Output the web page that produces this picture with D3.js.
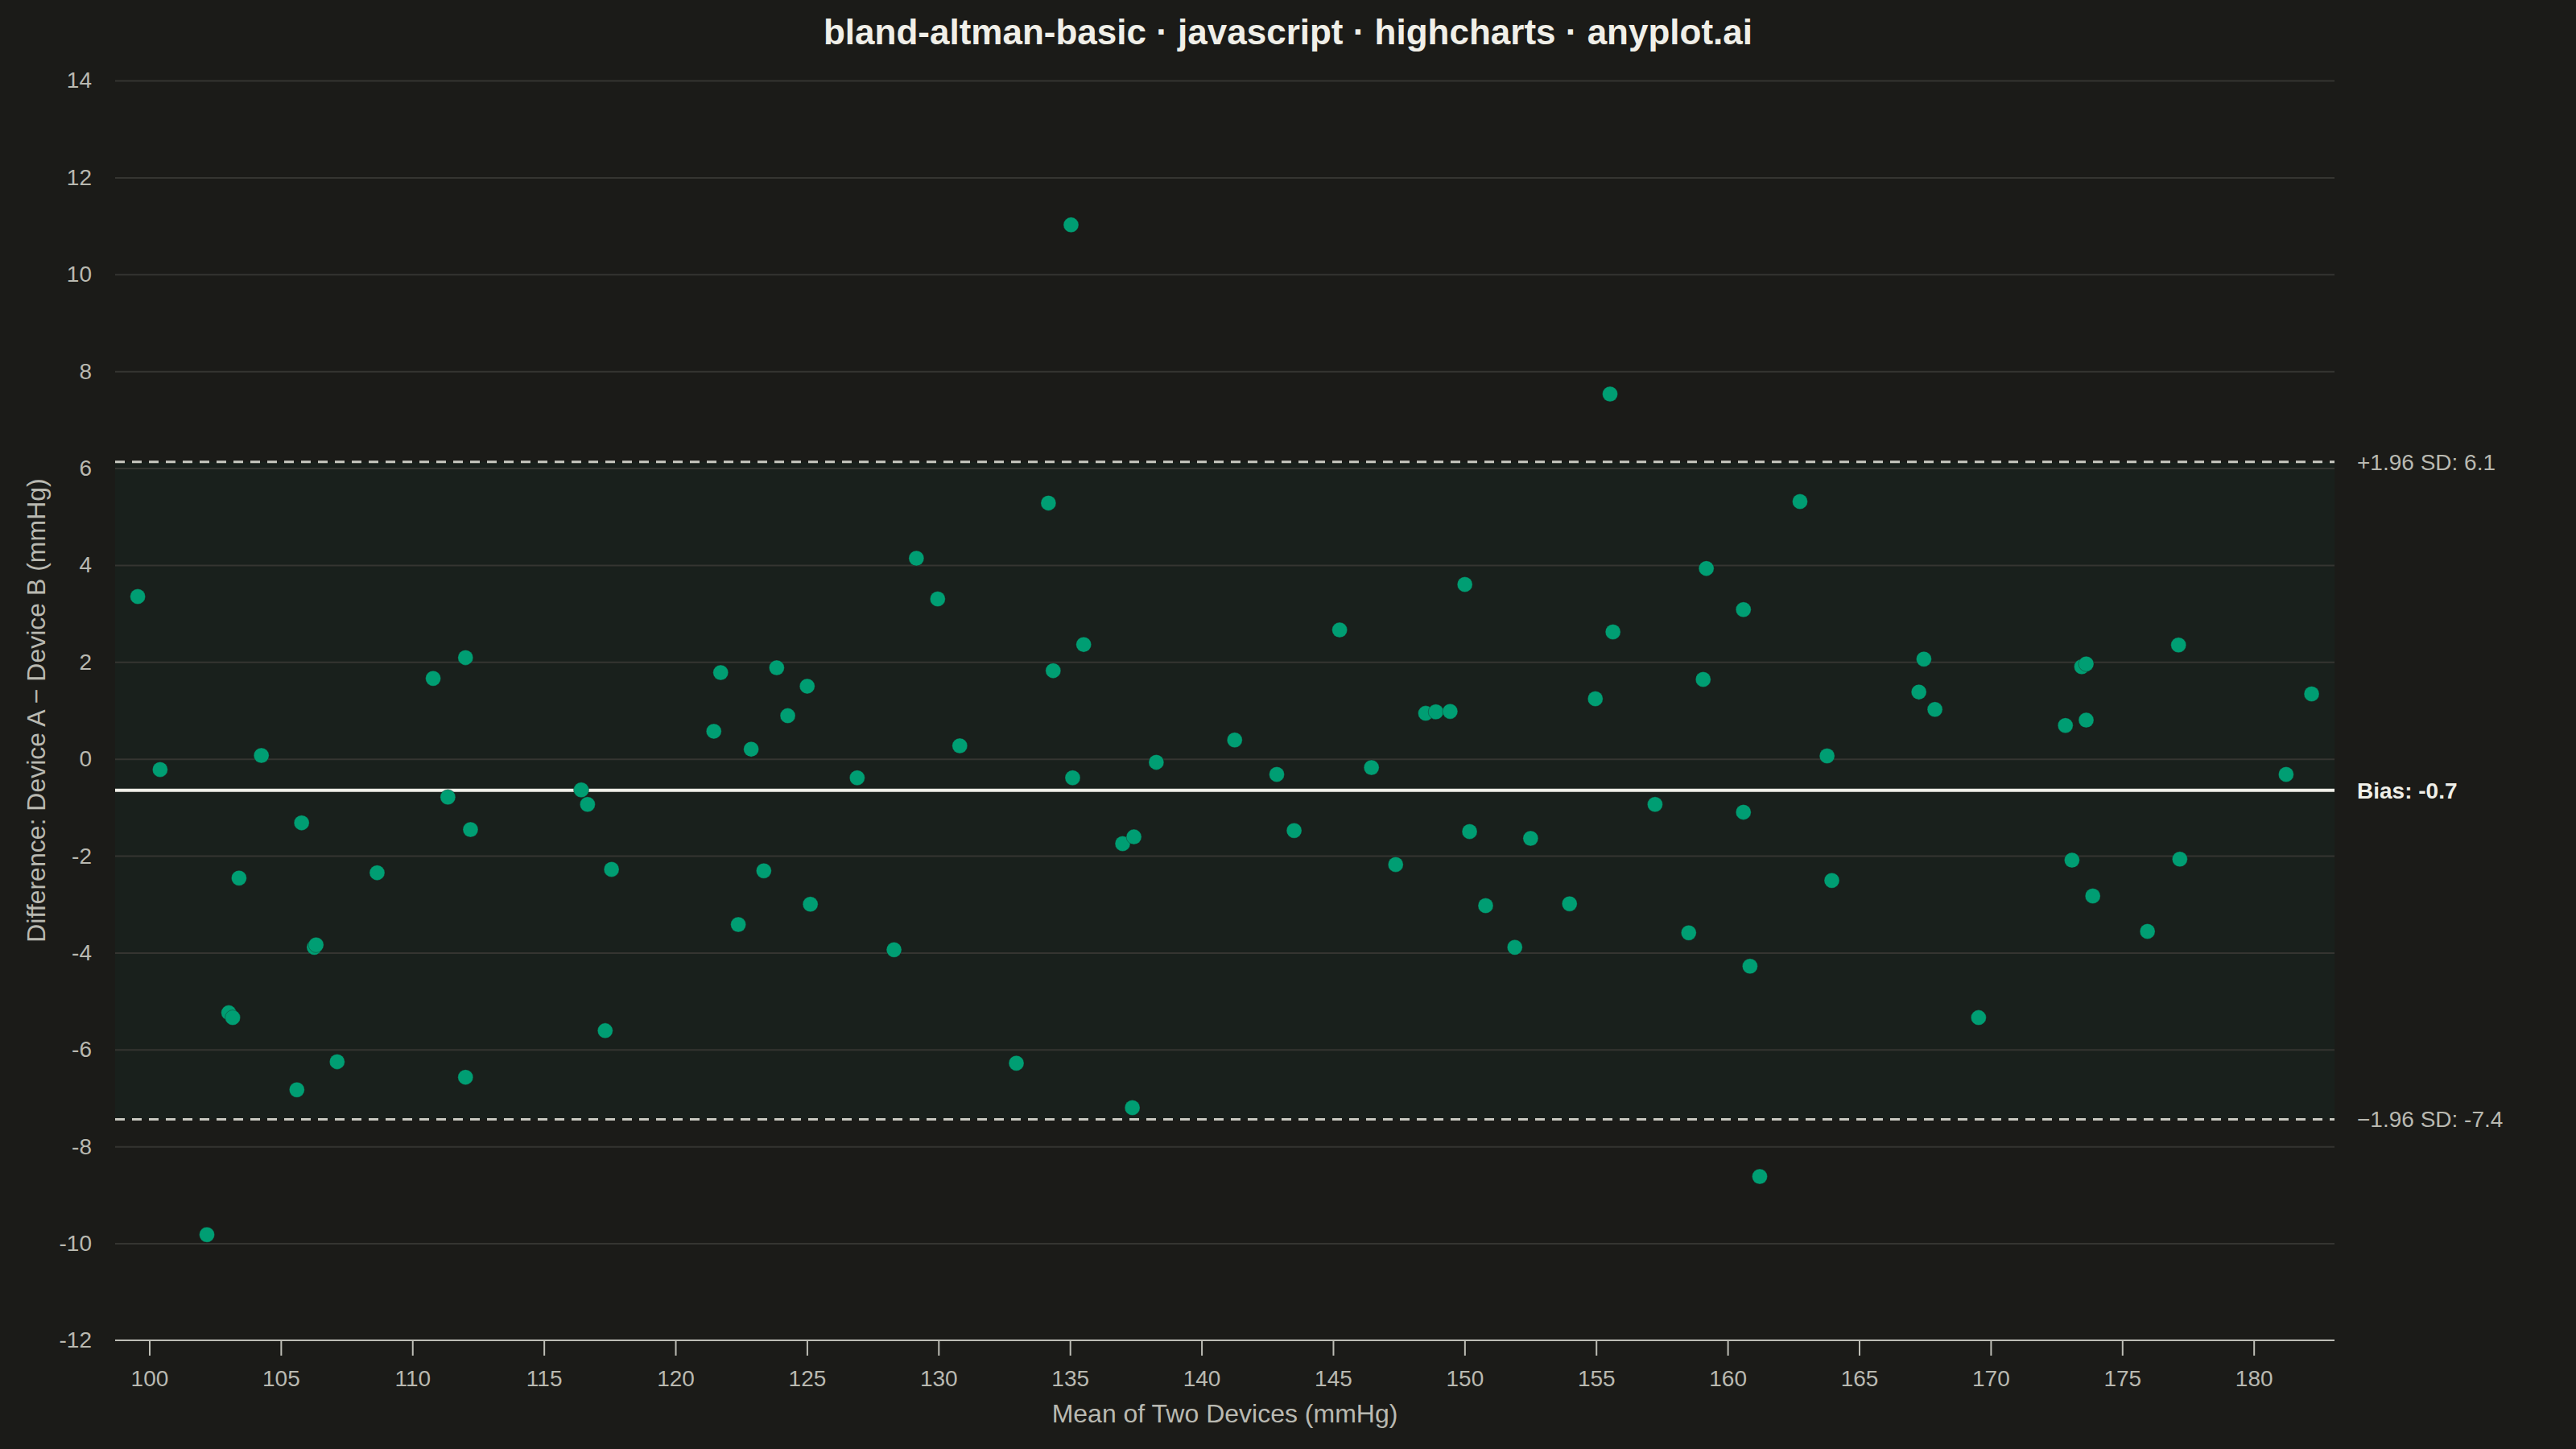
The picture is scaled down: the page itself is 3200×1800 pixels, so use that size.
<!DOCTYPE html>
<html>
<head>
<meta charset="utf-8">
<script src="https://cdn.jsdelivr.net/npm/d3@7"></script>
<style>
  html, body { margin: 0; padding: 0; background: #1b1b18; }
  svg { display: block; }
  text { font-family: "Liberation Sans", Arial, Helvetica, sans-serif; }
</style>
</head>
<body>
<svg id="chart" width="3200" height="1800"></svg>
<script>
// ---- data ----
const meanValues = [
  99.56, 100.41, 102.19, 103.02, 103.17, 103.41, 104.26, 105.61, 105.79, 106.27,
  106.34, 107.14, 108.66, 110.79, 111.35, 112.02, 112.21, 112.02, 116.42, 116.66,
  117.57, 117.33,
  121.46, 121.72, 122.39, 122.88, 123.36, 123.85, 124.27, 125.01, 125.13, 126.91,
  128.31, 129.16, 129.97, 130.81, 132.96, 134.18, 134.36, 135.04, 135.10, 135.52,
  137.00, 137.43, 137.37, 138.28,
  141.26, 142.86, 143.52, 145.25, 146.46, 147.38, 148.52, 148.91, 149.45, 150.01,
  150.19, 150.80, 151.91, 152.51, 153.99, 154.97, 155.53, 155.64, 157.24, 158.52,
  159.07, 159.19, 160.60, 160.60, 160.85, 161.22,
  162.75, 163.78, 163.96, 167.27, 167.46, 167.88, 169.54, 172.84, 173.09, 173.46,
  173.63, 173.63, 173.88, 175.96, 177.14, 177.19, 181.23, 182.20
];
const diffValues = [
  3.35, -0.22, -9.82, -5.24, -5.34, -2.46, 0.07, -6.83, -1.32, -3.89,
  -3.84, -6.25, -2.35, 1.66, -0.79, 2.09, -1.46, -6.57, -0.64, -0.94,
  -2.28, -5.61,
  0.57, 1.78, -3.42, 0.20, -2.31, 1.88, 0.89, 1.50, -3.00, -0.39,
  -3.94, 4.14, 3.30, 0.27, -6.28, 5.28, 1.82, 11.02, -0.39, 2.36,
  -1.75, -1.61, -7.20, -0.07,
  0.39, -0.32, -1.48, 2.66, -0.18, -2.18, 0.94, 0.97, 0.98, 3.60,
  -1.50, -3.03, -3.89, -1.64, -2.99, 1.24, 7.53, 2.62, -0.94, -3.59,
  1.64, 3.93, 3.08, -1.10, -4.28, -8.62,
  5.31, 0.06, -2.51, 1.38, 2.06, 1.02, -5.34, 0.69, -2.09, 1.90,
  1.96, 0.80, -2.83, -3.56, 2.35, -2.07, -0.32, 1.34
];
const referenceNames = ["upper", "bias", "lower"];
const referenceValues = [6.13, -0.65, -7.44];
const referenceLabels = ["+1.96 SD: 6.1", "Bias: -0.7", "\u22121.96 SD: -7.4"];
const xTicks = [100, 105, 110, 115, 120, 125, 130, 135, 140, 145, 150, 155, 160, 165, 170, 175, 180];
const yTicks = [-12, -10, -8, -6, -4, -2, 0, 2, 4, 6, 8, 10, 12, 14];
const xDomain = [98.7, 183.07];
const yDomain = [-12, 14];
const titleText = "bland-altman-basic \u00b7 javascript \u00b7 highcharts \u00b7 anyplot.ai";
const xTitle = "Mean of Two Devices (mmHg)";
const yTitle = "Difference: Device A \u2212 Device B (mmHg)";

// ---- layout ----
const W = 3200, H = 1800;
const plot = { left: 143, right: 2900, top: 100, bottom: 1665 };
const colors = {
  bg: "#1b1b18", band: "#19201c", grid: "#353531", axis: "#bdbdb5",
  text: "#b9b9b1", title: "#f0efe8", point: "#009E73", dashed: "#c9c9c1", bias: "#f0efe8"
};
const plainFormat = d => String(d);

const svg = d3.select("#chart");
svg.append("rect").attr("width", W).attr("height", H).attr("fill", colors.bg);

const x = d3.scaleLinear().domain(xDomain).range([plot.left, plot.right]);
const y = d3.scaleLinear().domain(yDomain).range([plot.bottom, plot.top]);

const upper = referenceValues[0], lower = referenceValues[2];

// band between limits
svg.append("rect")
  .attr("x", plot.left).attr("width", plot.right - plot.left)
  .attr("y", y(upper)).attr("height", y(lower) - y(upper))
  .attr("fill", colors.band);

// gridlines + y labels
const yAxisG = svg.append("g")
  .attr("transform", `translate(${plot.left},0)`)
  .call(d3.axisLeft(y).tickValues(yTicks).tickSize(-(plot.right - plot.left)).tickPadding(29).tickFormat(plainFormat));
yAxisG.select(".domain").remove();
yAxisG.selectAll(".tick line")
  .attr("stroke", colors.grid).attr("stroke-width", 2)
  .attr("display", d => d === yDomain[0] ? "none" : null);
yAxisG.selectAll(".tick text")
  .attr("fill", colors.text).attr("font-size", 28)
  .attr("font-family", "Liberation Sans, Arial, sans-serif");

// x axis
const xAxisG = svg.append("g")
  .attr("transform", `translate(0,${plot.bottom})`)
  .call(d3.axisBottom(x).tickValues(xTicks).tickSize(19).tickPadding(18).tickFormat(plainFormat));
xAxisG.select(".domain").attr("stroke", colors.axis).attr("stroke-width", 2)
  .attr("d", `M${plot.left},0H${plot.right}`);
xAxisG.selectAll(".tick line").attr("stroke", colors.axis).attr("stroke-width", 2);
xAxisG.selectAll(".tick text")
  .attr("fill", colors.text).attr("font-size", 28)
  .attr("font-family", "Liberation Sans, Arial, sans-serif");

// reference lines
const refs = referenceNames.map((n, i) => ({ name: n, value: referenceValues[i], label: referenceLabels[i] }));
svg.append("g").selectAll("line").data(refs).join("line")
  .attr("x1", plot.left).attr("x2", plot.right)
  .attr("y1", d => y(d.value)).attr("y2", d => y(d.value))
  .attr("stroke", d => d.name === "bias" ? colors.bias : colors.dashed)
  .attr("stroke-width", d => d.name === "bias" ? 4 : 3)
  .attr("stroke-dasharray", d => d.name === "bias" ? null : "12,9");

svg.append("g").selectAll("text").data(refs).join("text")
  .attr("x", plot.right + 28)
  .attr("y", d => y(d.value))
  .attr("dy", "0.35em")
  .attr("font-size", 28)
  .attr("font-weight", d => d.name === "bias" ? "bold" : "normal")
  .attr("fill", d => d.name === "bias" ? colors.title : colors.text)
  .text(d => d.label);

// points
const points = meanValues.map((m, i) => ({ m, d: diffValues[i] }));
svg.append("g").selectAll("circle").data(points).join("circle")
  .attr("cx", p => x(p.m))
  .attr("cy", p => y(p.d))
  .attr("r", 9.5)
  .attr("fill", colors.point)
  .attr("stroke", "#1b1b18").attr("stroke-width", 0.6).attr("stroke-opacity", 0.6);

// titles
svg.append("text")
  .attr("x", W / 2).attr("y", 40).attr("dy", "0.35em")
  .attr("text-anchor", "middle")
  .attr("font-size", 44).attr("font-weight", "bold")
  .attr("fill", colors.title)
  .text(titleText);

svg.append("text")
  .attr("x", (plot.left + plot.right) / 2).attr("y", 1756).attr("dy", "0.35em")
  .attr("text-anchor", "middle")
  .attr("font-size", 32)
  .attr("fill", colors.text)
  .text(xTitle);

svg.append("text")
  .attr("transform", `translate(45,${(plot.top + plot.bottom) / 2}) rotate(-90)`)
  .attr("dy", "0.35em")
  .attr("text-anchor", "middle")
  .attr("font-size", 32)
  .attr("fill", colors.text)
  .text(yTitle);
</script>
</body>
</html>
